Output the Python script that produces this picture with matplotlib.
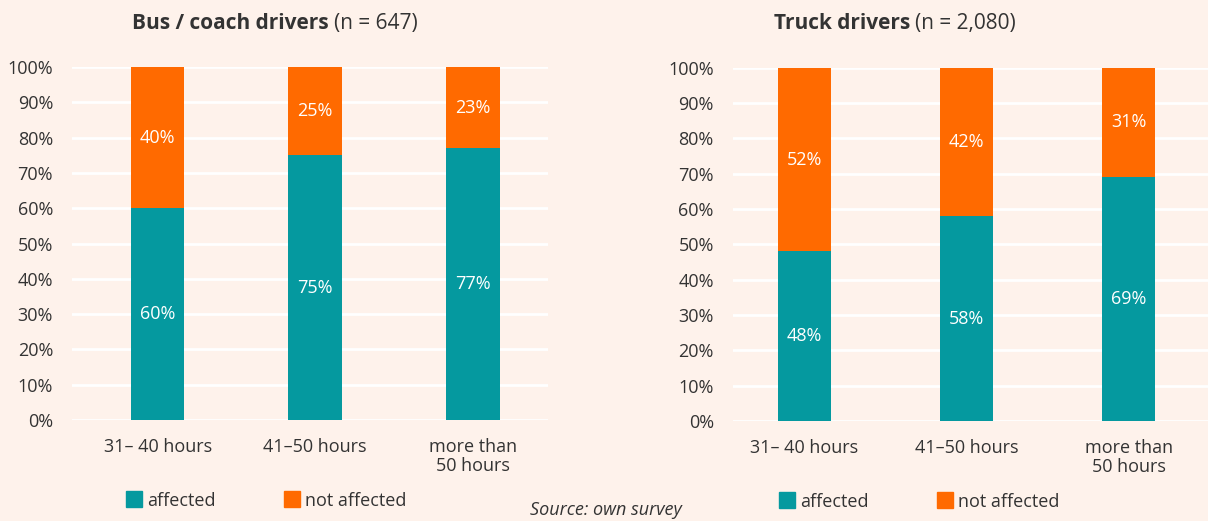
import matplotlib.pyplot as plt

categories = ["31\u2013 40 hours", "41\u201350 hours", "more than\n50 hours"]
bus_affected = [60, 75, 77]
bus_not_affected = [40, 25, 23]
truck_affected = [48, 58, 69]
truck_not_affected = [52, 42, 31]

BG = "#fef2eb"
TEAL = "#05999f"
ORANGE = "#ff6a00"
TXT = "#333333"

plt.rcParams["font.family"] = ["Open Sans", "DejaVu Sans"]

fig = plt.figure(figsize=(12.08, 5.21), dpi=100, facecolor=BG)


def draw_panel(rect, affected, not_affected, xlim, width):
    ax = fig.add_axes(rect)
    ax.set_facecolor(BG)
    x = list(range(len(categories)))
    ax.bar(x, affected, width=width, color=TEAL, zorder=3)
    ax.bar(x, not_affected, bottom=affected, width=width, color=ORANGE, zorder=3)
    for xi, a, n in zip(x, affected, not_affected):
        ax.text(xi, a / 2, f"{a}%", ha="center", va="center", color="white",
                fontsize=13, zorder=4)
        ax.text(xi, a + n / 2, f"{n}%", ha="center", va="center", color="white",
                fontsize=13, zorder=4)
    ax.set_ylim(0, 100)
    ax.set_xlim(*xlim)
    ax.set_yticks(range(0, 101, 10))
    ax.set_yticklabels([f"{v}%" for v in range(0, 101, 10)])
    ax.set_xticks(x)
    ax.set_xticklabels(categories, linespacing=1.05)
    ax.grid(axis="y", color="white", linewidth=2, zorder=0)
    ax.tick_params(length=0, labelsize=13, colors=TXT, pad=14)
    ax.tick_params(axis="x", pad=13)
    for s in ax.spines.values():
        s.set_visible(False)
    ax.set_axisbelow(True)
    return ax


draw_panel([0.060, 0.194, 0.394, 0.677], bus_affected, bus_not_affected,
           (-0.54, 2.48), 0.34)
draw_panel([0.607, 0.192, 0.393, 0.678], truck_affected, truck_not_affected,
           (-0.44, 2.49), 0.33)

# titles: bold part + regular part
fig.text(329 / 1208, 1 - 29 / 521, "Bus / coach drivers", ha="right", va="baseline",
         fontsize=15, fontweight="bold", color=TXT)
fig.text(334 / 1208, 1 - 29 / 521, "(n = 647)", ha="left", va="baseline",
         fontsize=15, color=TXT)
fig.text(910 / 1208, 1 - 29 / 521, "Truck drivers", ha="right", va="baseline",
         fontsize=15, fontweight="bold", color=TXT)
fig.text(915 / 1208, 1 - 29 / 521, "(n = 2,080)", ha="left", va="baseline",
         fontsize=15, color=TXT)


# legends (x = left edge of square, y = bottom of square, in pixels from top)
def legend_item(x_px, y_px, color, label):
    fig.patches.append(plt.Rectangle((x_px / 1208, 1 - y_px / 521),
                                     16 / 1208, 16 / 521, color=color,
                                     transform=fig.transFigure, figure=fig))
    fig.text((x_px + 21) / 1208, 1 - (y_px - 1) / 521, label, ha="left",
             va="baseline", fontsize=13, color=TXT)


legend_item(126, 507, TEAL, "affected")
legend_item(284, 507, ORANGE, "not affected")
legend_item(779, 508, TEAL, "affected")
legend_item(937, 508, ORANGE, "not affected")

fig.text(606 / 1208, 1 - 510 / 521, "Source: own survey", ha="center", va="center",
         fontsize=13, style="italic", color=TXT)

fig.savefig("out.png", dpi=100, facecolor=BG)
